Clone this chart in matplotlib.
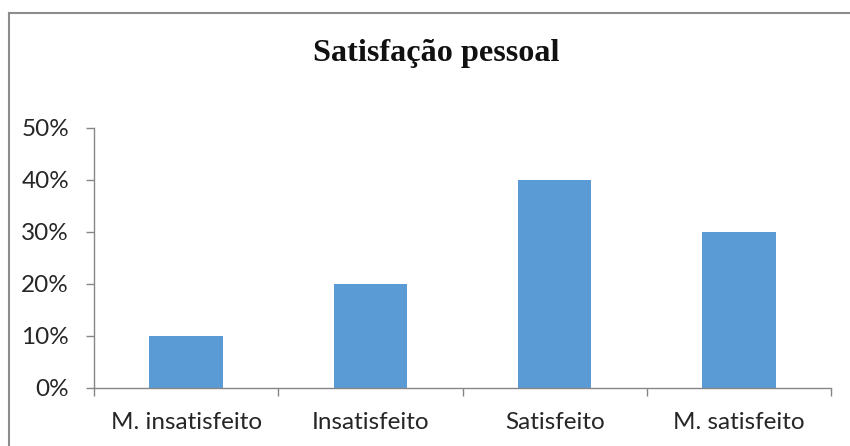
import matplotlib
matplotlib.use("Agg")
import matplotlib.pyplot as plt
from matplotlib.lines import Line2D
from matplotlib.ticker import FuncFormatter

categories = ["M. insatisfeito", "Insatisfeito", "Satisfeito", "M. satisfeito"]
values = [0.10, 0.20, 0.40, 0.30]
yticks = [0.0, 0.1, 0.2, 0.3, 0.4, 0.5]
title = "Satisfação pessoal"

bar_color = "#5B9BD5"
axis_color = "#868686"
text_color = "#262626"
label_font = "Lato"

fig = plt.figure(figsize=(8.5, 4.46), dpi=100)
fig.patch.set_facecolor("white")

# chart-area frame (left and top edges)
fig.add_artist(Line2D([9 / 850, 9 / 850], [0, 1 - 13 / 446], transform=fig.transFigure,
                      color="#8c8c8c", lw=1.5))
fig.add_artist(Line2D([9 / 850, 1], [1 - 13 / 446, 1 - 13 / 446], transform=fig.transFigure,
                      color="#8c8c8c", lw=1.5))

ax = fig.add_axes([94 / 850, 1 - 388 / 446, (831 - 94) / 850, (388 - 128) / 446])
x = list(range(len(categories)))
ax.bar(x, values, width=0.4, color=bar_color, zorder=2)

ax.set_xlim(-0.5, len(categories) - 0.5)
ax.set_ylim(0, 0.5)
ax.set_yticks(yticks)
ax.yaxis.set_major_formatter(FuncFormatter(lambda v, _: f"{round(v * 100)}%"))

ax.set_xticks(x)
ax.set_xticklabels(categories)
ax.set_xticks([i - 0.5 for i in range(len(categories) + 1)], minor=True)
ax.tick_params(axis="x", which="major", length=0, pad=17, labelsize=17.5, labelcolor=text_color)
ax.tick_params(axis="x", which="minor", length=6, width=1, color=axis_color, direction="out")
ax.tick_params(axis="y", length=6, width=1, color=axis_color, pad=12, labelsize=17.5,
               labelcolor=text_color)

for lab in ax.get_xticklabels() + ax.get_yticklabels():
    lab.set_fontfamily(label_font)

for side in ("top", "right"):
    ax.spines[side].set_visible(False)
for side in ("left", "bottom"):
    ax.spines[side].set_color(axis_color)
    ax.spines[side].set_linewidth(1)

fig.text(436 / 850, 1 - 54 / 446, title, ha="center", va="center", fontsize=23.2,
         fontweight="bold", family="Liberation Serif", color="#111111")

fig.savefig("out.png", dpi=100, facecolor="white")
